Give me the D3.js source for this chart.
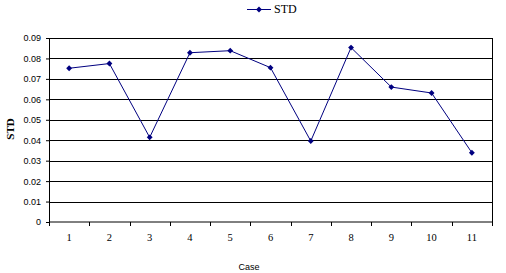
<!DOCTYPE html>
<html>
<head>
<meta charset="utf-8">
<script src="https://cdn.jsdelivr.net/npm/d3@7"></script>
<style>
  body { margin: 0; background: #fff; }
  svg { display: block; }
</style>
</head>
<body>
<svg class="std_svg" width="506" height="273"></svg>
<script>
// chart values
const cases = ["1", "2", "3", "4", "5", "6", "7", "8", "9", "10", "11"];
const stdValues = [0.0752, 0.0775, 0.0414, 0.0828, 0.0838, 0.0755, 0.0396, 0.0853, 0.066, 0.0631, 0.0339];
const yTicks = [0, 0.01, 0.02, 0.03, 0.04, 0.05, 0.06, 0.07, 0.08, 0.09];
const seriesName = "STD";

const margin = {top: 38, right: 14, bottom: 51, left: 49};
const width = 506 - margin.left - margin.right;
const height = 273 - margin.top - margin.bottom;
const navy = "#000080";

const svg = d3.select(".std_svg");
const g = svg.append("g")
    .attr("transform", `translate(${margin.left}, ${margin.top})`);

const x = d3.scaleBand()
    .domain(cases)
    .range([0, width]);

const y = d3.scaleLinear()
    .domain([0, 0.09])
    .range([height, 0]);

// horizontal gridlines
g.selectAll(".grid")
    .data(yTicks.slice(1))
    .enter()
    .append("line")
    .attr("x1", 0)
    .attr("x2", width)
    .attr("y1", d => Math.round(y(d)) + 0.5)
    .attr("y2", d => Math.round(y(d)) + 0.5)
    .attr("stroke", "#000")
    .attr("stroke-width", 1);

// right border
g.append("line")
    .attr("x1", width + 0.5).attr("x2", width + 0.5)
    .attr("y1", Math.round(y(0.09))).attr("y2", height)
    .attr("stroke", "#000");

// y axis
const yAxis = g.append("g")
    .call(d3.axisLeft(y).tickValues(yTicks).tickSize(3).tickPadding(5)
        .tickFormat(d => d === 0 ? "0" : d3.format(".2f")(d)));
yAxis.select(".domain").attr("stroke", "#000");
yAxis.selectAll("text")
    .attr("font-family", "'Liberation Sans', Arial, sans-serif")
    .attr("font-size", "9px")
    .attr("fill", "#000");

// x axis: ticks sit between categories
const xAxis = g.append("g")
    .attr("transform", `translate(0, ${height})`)
    .call(d3.axisBottom(x).tickSize(0).tickPadding(12));
xAxis.select(".domain").attr("d", `M0.5,0H${width + 0.5}`).attr("stroke", "#000");
xAxis.selectAll("text")
    .attr("font-family", "'Liberation Serif', 'Times New Roman', serif")
    .attr("font-size", "10.5px")
    .attr("fill", "#000");

g.selectAll(".xtick")
    .data(d3.range(cases.length + 1))
    .enter()
    .append("line")
    .attr("x1", i => Math.round(i * x.bandwidth()) + 0.5)
    .attr("x2", i => Math.round(i * x.bandwidth()) + 0.5)
    .attr("y1", height)
    .attr("y2", height + 4)
    .attr("stroke", "#000");

// the series line
const line = d3.line()
    .x((d, i) => x(cases[i]) + x.bandwidth() / 2)
    .y(d => y(d));

g.append("path")
    .datum(stdValues)
    .attr("d", line)
    .attr("fill", "none")
    .attr("stroke", navy)
    .attr("stroke-width", 1);

const diamond = d3.symbol().type(d3.symbolDiamond2).size(22);

g.selectAll(".pt")
    .data(stdValues)
    .enter()
    .append("path")
    .attr("d", diamond)
    .attr("transform", (d, i) => `translate(${x(cases[i]) + x.bandwidth() / 2}, ${y(d)})`)
    .attr("fill", navy);

// axis titles
svg.append("text")
    .attr("x", 249)
    .attr("y", 270)
    .attr("text-anchor", "middle")
    .attr("font-family", "'Liberation Sans', Arial, sans-serif")
    .attr("font-size", "9px")
    .attr("fill", "#000")
    .text("Case");

svg.append("text")
    .attr("transform", "translate(14, 129) rotate(-90)")
    .attr("text-anchor", "middle")
    .attr("font-family", "'Liberation Serif', 'Times New Roman', serif")
    .attr("font-weight", "bold")
    .attr("font-size", "11px")
    .attr("fill", "#000")
    .text(seriesName);

// legend
const legend = svg.append("g").attr("transform", "translate(247, 9)");
legend.append("line")
    .attr("x1", 0).attr("x2", 24)
    .attr("y1", 0.5).attr("y2", 0.5)
    .attr("stroke", navy);
legend.append("path")
    .attr("d", diamond)
    .attr("transform", "translate(12, 0.5)")
    .attr("fill", navy);
legend.append("text")
    .attr("x", 27)
    .attr("y", 4)
    .attr("font-family", "'Liberation Serif', 'Times New Roman', serif")
    .attr("font-size", "12px")
    .attr("fill", "#000")
    .text(seriesName);
</script>
</body>
</html>
